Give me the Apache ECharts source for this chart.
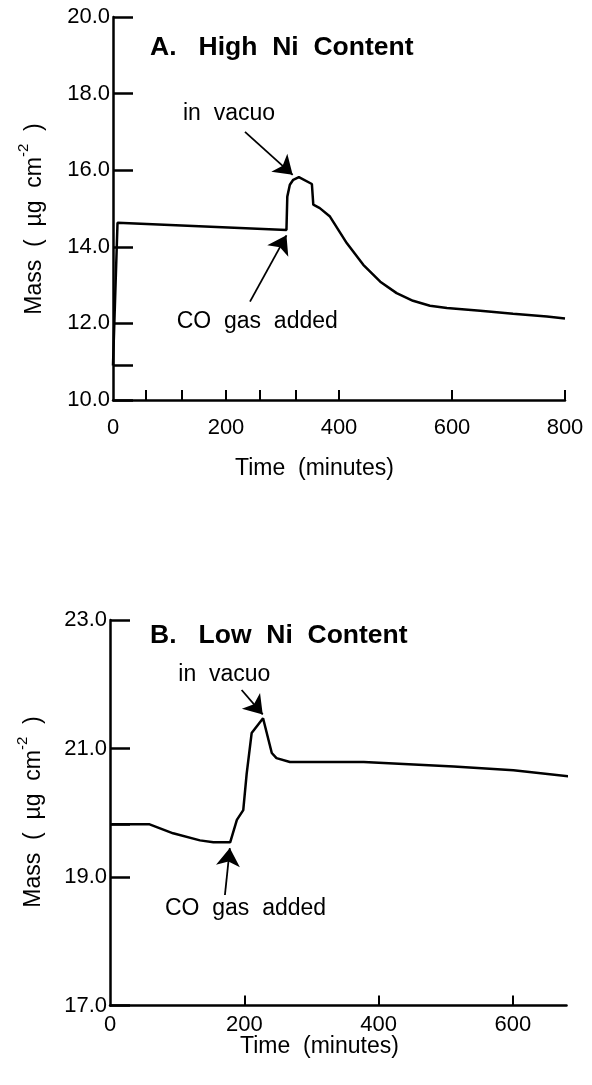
<!DOCTYPE html>
<html>
<head>
<meta charset="utf-8">
<script src="https://cdn.jsdelivr.net/npm/echarts@6/dist/echarts.min.js"></script>
<style>
  html, body { margin: 0; padding: 0; background: #fff; }
  #chart { width: 592px; height: 1085px; }
</style>
</head>
<body>
<div id="chart"></div>
<script>
// panel A: high Ni content
const timeA = [0, 8, 307, 308.5, 308.5, 313, 319, 329, 352, 354.5, 366, 384, 414, 443, 473, 502, 531, 561, 591, 650, 708, 768, 800];
const massA = [10.9, 14.63, 14.44, 14.41, 15.31, 15.62, 15.75, 15.82, 15.64, 15.10, 15.01, 14.79, 14.09, 13.53, 13.09, 12.79, 12.59, 12.46, 12.40, 12.33, 12.25, 12.18, 12.13];
const ticksAx = [58, 122, 200, 260, 323, 400, 600, 800];
const labelsAx = [0, 200, 400, 600, 800];
const ticksAy = [10, 10.9, 12, 14, 16, 18, 20];
const labelsAy = [10, 12, 14, 16, 18, 20];

// panel B: low Ni content
const timeB = [2, 59, 94, 134, 154, 179, 189, 198.5, 203.6, 211, 228, 241, 248, 268, 378, 512, 601, 691];
const massB = [19.82, 19.82, 19.68, 19.57, 19.54, 19.54, 19.89, 20.04, 20.61, 21.24, 21.47, 20.93, 20.85, 20.79, 20.79, 20.72, 20.66, 20.56];
const ticksBx = [200, 400, 600];
const labelsBx = [0, 200, 400, 600];
const ticksBy = [17, 19, 19.82, 21, 23];
const labelsBy = [17, 19, 21, 23];

// annotation arrows [from, to] in data units
const arrowsA = [[[233.6, 17.0], [318, 15.88]], [[242.5, 12.57], [307, 14.3]]];
const arrowsB = [[[196.1, 21.91], [227.5, 21.53]], [[171.2, 18.72], [178.5, 19.45]]];

const FONT = '"Liberation Sans", Arial, sans-serif';
const pair = (xs, ys) => xs.map((x, i) => [x, ys[i]]);

function xAxisCfg(grid, max, ticks, labels, margin) {
  return {
    type: 'value', gridIndex: grid, min: 0, max: max, interval: 200,
    axisLine: { lineStyle: { color: '#000', width: 2.5 } },
    axisTick: { inside: true, length: 10, lineStyle: { color: '#000', width: 2 }, customValues: ticks },
    axisLabel: { customValues: labels, color: '#000', fontSize: 22, fontFamily: FONT, margin: margin },
    splitLine: { show: false }
  };
}

function yAxisCfg(grid, min, max, ticks, labels) {
  return {
    type: 'value', gridIndex: grid, min: min, max: max, interval: 2,
    axisLine: { show: true, lineStyle: { color: '#000', width: 2.5 } },
    axisTick: { show: true, inside: true, length: 20, lineStyle: { color: '#000', width: 2.5 }, customValues: ticks },
    axisLabel: { customValues: labels, color: '#000', fontSize: 22, fontFamily: FONT, margin: 3,
      formatter: v => v.toFixed(1) },
    splitLine: { show: false }
  };
}

function arrowLines(list) {
  return {
    silent: true, animation: false,
    symbol: ['none', 'arrow'], symbolSize: 18,
    label: { show: false },
    itemStyle: { color: '#000' },
    lineStyle: { color: '#000', width: 1.8, type: 'solid' },
    emphasis: { disabled: true },
    data: list.map(a => [{ coord: a[0] }, { coord: a[1] }])
  };
}

function txt(x, y, text, size, bold, align) {
  return {
    type: 'text', x: x, y: y, silent: true,
    style: { text: text, fill: '#000', font: (bold ? 'bold ' : '') + size + 'px ' + FONT,
      textAlign: align || 'left', textVerticalAlign: 'middle' }
  };
}

function massName(x, y) {
  return {
    type: 'text', x: x, y: y, rotation: Math.PI / 2, silent: true,
    style: {
      text: '{a|Mass  (  µg  cm}{s|-2}{a|  )}',
      textAlign: 'center', textVerticalAlign: 'middle', fill: '#000',
      rich: {
        a: { fontSize: 23, fontFamily: FONT, color: '#000', lineHeight: 30, verticalAlign: 'bottom' },
        s: { fontSize: 15, fontFamily: FONT, color: '#000', lineHeight: 30, verticalAlign: 'top' }
      }
    }
  };
}

const chart = echarts.init(document.getElementById('chart'), null, { renderer: 'canvas' });
chart.setOption({
  animation: false,
  backgroundColor: '#fff',
  grid: [
    { left: 113, top: 17, width: 452, height: 383 },
    { left: 110, top: 620, width: 456.5, height: 385.5 }
  ],
  xAxis: [
    xAxisCfg(0, 800, ticksAx, labelsAx, 17),
    xAxisCfg(1, 680, ticksBx, labelsBx, 8)
  ],
  yAxis: [
    yAxisCfg(0, 10, 20, ticksAy, labelsAy),
    yAxisCfg(1, 17, 23, ticksBy, labelsBy)
  ],
  series: [
    {
      type: 'line', xAxisIndex: 0, yAxisIndex: 0, data: pair(timeA, massA),
      showSymbol: false, clip: false, lineStyle: { color: '#000', width: 2.5 },
      markLine: arrowLines(arrowsA)
    },
    {
      type: 'line', xAxisIndex: 1, yAxisIndex: 1, data: pair(timeB, massB),
      showSymbol: false, clip: false, lineStyle: { color: '#000', width: 2.5 },
      markLine: arrowLines(arrowsB)
    }
  ],
  graphic: [
    txt(150, 47.5, 'A.   High  Ni  Content', 26.5, true),
    txt(183, 113.7, 'in  vacuo', 23),
    txt(176.7, 322, 'CO  gas  added', 23),
    txt(235, 468.7, 'Time  (minutes)', 23),
    massName(31, 219),
    txt(150, 636, 'B.   Low  Ni  Content', 26.5, true),
    txt(178.3, 674.7, 'in  vacuo', 23),
    txt(165, 908.7, 'CO  gas  added', 23),
    txt(240, 1047, 'Time  (minutes)', 23),
    massName(30, 812)
  ]
});
</script>
</body>
</html>
